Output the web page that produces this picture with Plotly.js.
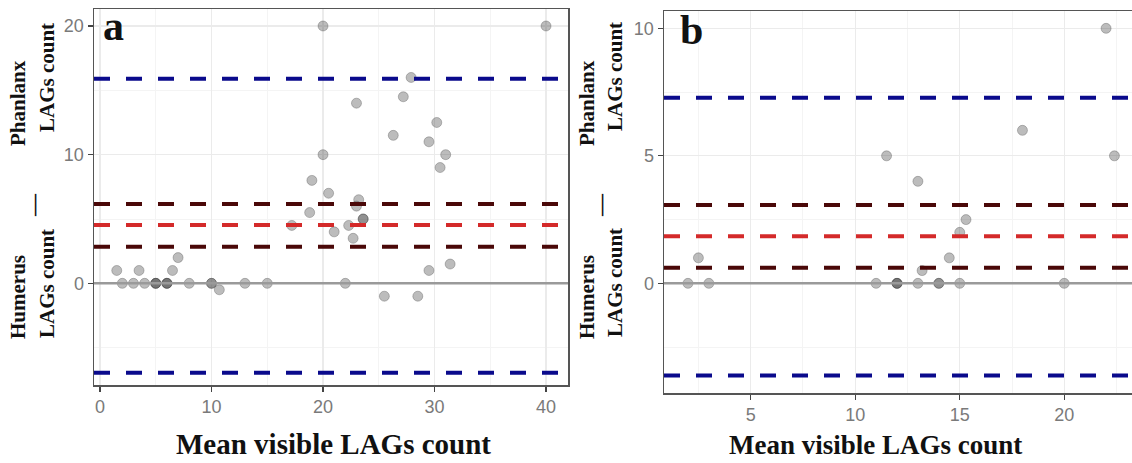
<!DOCTYPE html>
<html><head><meta charset="utf-8">
<script src="https://cdn.plot.ly/plotly-3.0.1.min.js"></script>
<style>html,body{margin:0;padding:0;background:#fff}#chart{width:1132px;height:463px}</style>
</head><body><div id="chart"></div>
<script>
// Panel a data
const aMean = [1.5,2,3,3.5,4,5,5,5,6,6,6,6.5,7,8,10,10,10.7,13,15,17.2,18.8,19,20,20,20.5,21,22,22.3,22.7,23,23.2,23,23.6,23.6,25.5,26.3,27.2,27.9,28.5,29.5,29.5,30.2,30.5,31,31.4,40];
const aDiff = [1,0,0,1,0,0,0,0,0,0,0,1,2,0,0,0,-0.5,0,0,4.5,5.5,8,10,20,7,4,0,4.5,3.5,6,6.5,14,5,5,-1,11.5,14.5,16,-1,11,1,12.5,9,10,1.5,20];
const aLoA = [15.9, -6.95];      // limits of agreement
const aBias = [4.53];            // mean difference
const aBiasCI = [6.16, 2.85];    // CI of mean difference
// Panel b data
const bMean = [2,2.5,3,11,11.5,12,12,12,13,13.2,13,14,14,14.5,15,15,15.3,18,20,22,22.4];
const bDiff = [0,1,0,0,5,0,0,0,4,0.5,0,0,0,1,2,0,2.5,6,0,10,5];
const bLoA = [7.28, -3.61];
const bBias = [1.85];
const bBiasCI = [3.07, 0.61];
const zeroLine = [0];
const xTitle = "Mean visible LAGs count";

const W = 1132, H = 463;
const px = v => v / W, py = v => 1 - v / H;

const markerStyle = {size: 10, color: 'rgba(70,70,70,0.36)', line: {color: 'rgba(60,60,60,0.3)', width: 1}};
const traces = [
  {x: aMean, y: aDiff, type: 'scatter', mode: 'markers', marker: markerStyle, xaxis: 'x', yaxis: 'y', hoverinfo: 'skip'},
  {x: bMean, y: bDiff, type: 'scatter', mode: 'markers', marker: markerStyle, xaxis: 'x2', yaxis: 'y2', hoverinfo: 'skip'}
];

function hline(v, axisSuffix, color, dash, width) {
  return {type: 'line', xref: 'x' + axisSuffix + ' domain', x0: 0, x1: 1, yref: 'y' + axisSuffix, y0: v, y1: v,
          line: {color: color, width: width, dash: dash}, layer: 'above'};
}
const shapes = [];
[['', zeroLine, aLoA, aBias, aBiasCI], ['2', zeroLine, bLoA, bBias, bBiasCI]].forEach(([s, z, loa, bias, ci]) => {
  z.forEach(v => shapes.push(hline(v, s, '#9a9a9a', 'solid', 2.5)));
  loa.forEach(v => shapes.push(hline(v, s, '#0a0a8c', '16px,16px', 4)));
  ci.forEach(v => shapes.push(hline(v, s, '#4a0808', '16px,16px', 4)));
  bias.forEach(v => shapes.push(hline(v, s, '#d42a2a', '16px,16px', 4)));
});

const tickFont = {family: 'Liberation Sans, Arial, sans-serif', size: 18, color: '#7a7a7a'};
function axis(domain, range, dtick, anchor, minorDtick) {
  return {domain: domain, range: range, dtick: dtick, tick0: 0, anchor: anchor,
    showgrid: true, gridcolor: '#ebebeb', gridwidth: 1.2,
    minor: {showgrid: true, dtick: minorDtick, tick0: 0, gridcolor: '#f4f4f4', gridwidth: 1},
    zeroline: false, showline: true, linecolor: '#555', linewidth: 1.5, mirror: true,
    ticks: 'outside', ticklen: 5, tickcolor: '#444', tickwidth: 1.2, tickfont: tickFont};
}
const serif = 'Liberation Serif, Times New Roman, serif';
const layout = {
  width: W, height: H, margin: {l: 0, r: 0, t: 0, b: 0},
  paper_bgcolor: '#fff', plot_bgcolor: '#fff', showlegend: false,
  xaxis: axis([px(94), px(568)], [-0.54, 41.97], 10, 'y', 5),
  yaxis: axis([py(385), py(9)], [-7.9, 21.32], 10, 'x', 5),
  xaxis2: axis([px(664), 1], [0.854, 23.24], 5, 'y2', 2.5),
  yaxis2: axis([py(393), py(11)], [-4.30, 10.68], 5, 'x2', 2.5),
  shapes: shapes,
  annotations: []
};
const ann = layout.annotations;
function txt(text, x, y, size, angle, xanchor, yanchor) {
  ann.push({text: text, xref: 'paper', yref: 'paper', x: px(x), y: py(y), showarrow: false,
    xanchor: xanchor || 'center', yanchor: yanchor || 'middle', textangle: angle || 0,
    font: {family: serif, size: size, color: '#111', weight: 'bold'}});
}
// x titles
txt('<b>' + xTitle + '</b>', 333, 462, 29, 0, 'center', 'bottom');
txt('<b>' + xTitle + '</b>', 876, 462, 27, 0, 'center', 'bottom');
// panel letters
txt('<b>a</b>', 101, 26, 42, 0, 'left');
txt('<b>b</b>', 678, 30, 42, 0, 'left');
// y titles (two stacked fractions with a dash between)
[[18, 33, 47], [587, 600, 615]].forEach(([c1, cd, c2]) => {
  txt('<b>Humerus</b>', c1, 297, 21, -90);
  txt('<b>LAGs count</b>', c2, 283, 21, -90);
  txt('<b>—</b>', cd, 205, 22, -90);
  txt('<b>Phanlanx</b>', c1, 103, 21, -90);
  txt('<b>LAGs count</b>', c2, 77, 21, -90);
});
Plotly.newPlot('chart', traces, layout, {displayModeBar: false, staticPlot: true});
</script></body></html>
